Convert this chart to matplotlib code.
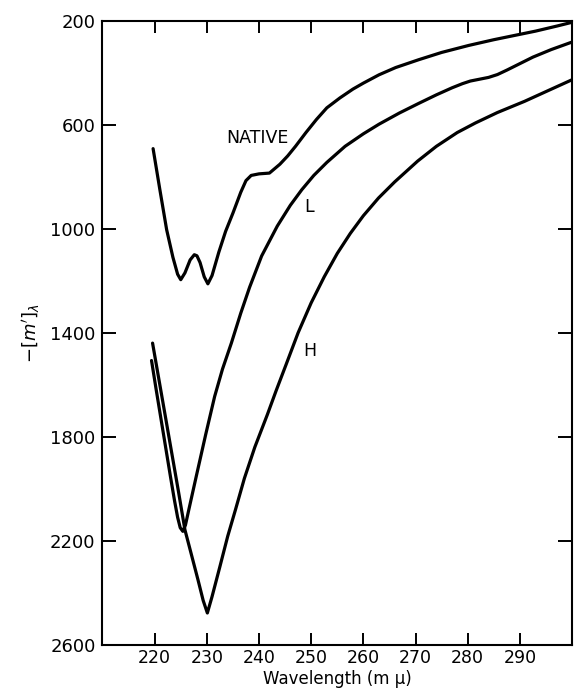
import matplotlib.pyplot as plt

# Rotatory dispersion curves
native_wl = [219.7, 221, 222.3, 223.5, 224.4, 225.0, 225.8, 226.8, 227.6, 228.1,
             228.7, 229.5, 230.2, 231, 232.3, 233.6, 235, 236.5, 237.5, 238.5,
             240, 242, 244, 245.5, 247, 249, 251, 253, 255.5, 258,
             260, 263, 266.2, 270.6, 275, 280.2, 285, 289.6, 293, 297.2, 300]
native_m = [692, 850, 1004, 1110, 1175, 1196, 1170, 1120, 1100, 1104,
            1130, 1185, 1212, 1180, 1090, 1010, 940, 860, 815, 795,
            789, 786, 752, 720, 683, 630, 580, 535, 497, 463,
            440, 408, 380, 350, 322, 295, 273, 254, 240, 220, 206]

l_wl = [219.4, 220.3, 221.2, 222.1, 223.0, 223.8, 224.4, 224.9, 225.4, 225.9,
        226.5, 228, 229.8, 231.5, 233, 234.7, 236.5, 238.2, 240.5, 243.5,
        246, 248.2, 250.5, 253, 256.5, 260, 263, 266.9, 270.6, 274,
        277, 279, 280.5, 282.5, 284, 285.7, 287.5, 289.6, 292.5, 296, 300]
l_m = [1507, 1620, 1730, 1840, 1950, 2045, 2110, 2150, 2164, 2140,
       2085, 1950, 1790, 1645, 1540, 1440, 1325, 1225, 1105, 990,
       910, 850, 795, 745, 683, 635, 598, 555, 518, 485,
       458, 442, 432, 424, 418, 407, 390, 369, 340, 311, 282]

h_wl = [219.6, 220.6, 221.6, 222.6, 223.6, 224.6, 225.8, 227, 228.3, 229.3,
        230.1, 231, 232.5, 234, 235.5, 237.2, 239.2, 241.6, 243.3, 245.2,
        247.5, 250, 252.5, 255, 257.5, 260, 262.9, 266, 270.4, 274,
        278, 281.5, 285.7, 290.9, 295.5, 300]
h_m = [1440, 1555, 1670, 1785, 1900, 2015, 2158, 2250, 2350, 2430,
       2478, 2415, 2300, 2183, 2080, 1960, 1840, 1715, 1622, 1522,
       1400, 1285, 1185, 1095, 1018, 950, 882, 820, 740, 683,
       630, 593, 553, 510, 468, 427]

x_ticks = [220, 230, 240, 250, 260, 270, 280, 290]
y_ticks = [200, 600, 1000, 1400, 1800, 2200, 2600]

fig = plt.figure(figsize=(5.79, 6.91), dpi=100)
ax = fig.add_axes([0.177, 0.067, 0.811, 0.903])

for xs, ys in [(native_wl, native_m), (l_wl, l_m), (h_wl, h_m)]:
    ax.plot(xs, ys, color='black', linewidth=2.3,
            solid_joinstyle='round', solid_capstyle='round')

# curve labels
ax.text(239.7, 650, 'NATIVE', fontsize=12.5, ha='center', va='center')
ax.text(249.5, 915, 'L', fontsize=12.5, ha='center', va='center')
ax.text(249.7, 1470, 'H', fontsize=12.5, ha='center', va='center')

ax.set_xlim(210, 300)
ax.set_ylim(2600, 200)
ax.set_xticks(x_ticks)
ax.set_yticks(y_ticks)

ax.tick_params(axis='x', direction='in', length=8.5, width=1.4,
               top=True, labelsize=12.5, pad=3)
ax.tick_params(axis='y', direction='in', length=10, width=1.4,
               right=True, labelsize=13, pad=5)
for sp in ax.spines.values():
    sp.set_linewidth(1.5)

ax.set_xlabel('Wavelength (m \u03bc)', fontsize=12, labelpad=2)
ax.set_ylabel(r"$-[m']_{\lambda}$", fontsize=13, labelpad=6)

plt.savefig('out.png', dpi=100)
